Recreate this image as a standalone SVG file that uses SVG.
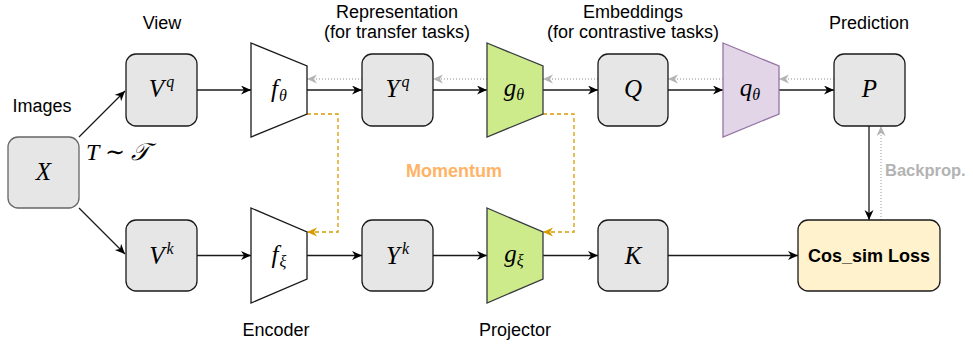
<svg xmlns="http://www.w3.org/2000/svg" width="973" height="345" viewBox="0 0 973 345">
  <defs>
    <style>
      .lbl { font-family: "Liberation Sans", Arial, sans-serif; font-size: 18px; fill: #000; text-anchor: middle; }
      .math { font-family: "Liberation Serif", "DejaVu Serif", serif; font-style: italic; font-size: 25px; fill: #000; text-anchor: middle; }
      .sup { font-size: 16px; }
      .sub { font-size: 16px; }
      .box { fill: #e6e6e6; stroke: #1a1a1a; stroke-width: 1.3; }
      .trap { fill: #ffffff; stroke: #1a1a1a; stroke-width: 1.3; }
      .green { fill: #cdeb8b; stroke: #36393d; stroke-width: 1.3; }
      .purple { fill: #e1d5e7; stroke: #9673a6; stroke-width: 1.3; }
      .flow { fill: none; stroke: #1a1a1a; stroke-width: 1.3; marker-end: url(#arrowBlack); }
      .grad { fill: none; stroke: #b3b3b3; stroke-width: 1.3; stroke-dasharray: 1 2; marker-end: url(#arrowGrey); }
      .mom { fill: none; stroke: #d79b00; stroke-width: 1.3; stroke-dasharray: 4 3; marker-end: url(#arrowOrange); }
    </style>
    <marker id="arrowBlack" markerUnits="userSpaceOnUse" markerWidth="12" markerHeight="10" refX="10" refY="4.5" orient="auto">
      <path d="M0,0 L10,4.5 L0,9 L3,4.5 Z" fill="#000"/>
    </marker>
    <marker id="arrowGrey" markerUnits="userSpaceOnUse" markerWidth="12" markerHeight="10" refX="10" refY="4.5" orient="auto">
      <path d="M0,0 L10,4.5 L0,9 L3,4.5 Z" fill="#b3b3b3"/>
    </marker>
    <marker id="arrowOrange" markerUnits="userSpaceOnUse" markerWidth="12" markerHeight="10" refX="10" refY="4.5" orient="auto">
      <path d="M0,0 L10,4.5 L0,9 L3,4.5 Z" fill="#d79b00"/>
    </marker>
  </defs>

  <rect width="973" height="345" fill="#ffffff"/>

  <!-- connectors -->
  <g id="connectors">
    <!-- augmentation branches -->
    <path class="flow" d="M79,137 L125,91"/>
    <path class="flow" d="M79,208 L125,254"/>
    <!-- online branch -->
    <path class="flow" d="M197,90 L251,90"/>
    <path class="flow" d="M307,90 L362,90"/>
    <path class="flow" d="M433,90 L487,90"/>
    <path class="flow" d="M543,90 L598,90"/>
    <path class="flow" d="M668,90 L723,90"/>
    <path class="flow" d="M779,90 L834,90"/>
    <!-- target branch -->
    <path class="flow" d="M197,255.5 L251,255.5"/>
    <path class="flow" d="M307,255.5 L362,255.5"/>
    <path class="flow" d="M433,255.5 L487,255.5"/>
    <path class="flow" d="M543,255.5 L598,255.5"/>
    <path class="flow" d="M668,255.5 L798,255.5"/>
    <path class="flow" d="M869,126 L869,220"/>
    <!-- gradient flow -->
    <path class="grad" d="M834,79 L779,79"/>
    <path class="grad" d="M723,79 L668,79"/>
    <path class="grad" d="M598,79 L543,79"/>
    <path class="grad" d="M487,79 L433,79"/>
    <path class="grad" d="M362,79 L307,79"/>
    <path class="grad" d="M881,220 L881,126"/>
    <!-- momentum updates -->
    <path class="mom" d="M307,114 L338,114 L338,232 L307,232"/>
    <path class="mom" d="M543,114 L574,114 L574,232 L543,232"/>
  </g>

  <!-- nodes -->
  <g id="node-x">
    <rect x="8" y="137" width="71" height="71" rx="10" class="box" style="stroke:#666666"/>
    <text x="43.5" y="180" class="math">X</text>
  </g>
  <g id="node-vq">
    <rect x="126" y="54" width="71" height="72" rx="10" class="box"/>
    <text x="161.5" y="97" class="math">V<tspan class="sup" dx="2" dy="-10">q</tspan></text>
  </g>
  <g id="node-vk">
    <rect x="126" y="220" width="71" height="71" rx="10" class="box"/>
    <text x="161.5" y="264" class="math">V<tspan class="sup" dx="2" dy="-10">k</tspan></text>
  </g>
  <g id="node-f-theta">
    <polygon points="251,43 307,66 307,114 251,137" class="trap"/>
    <text x="279" y="97" class="math">f<tspan class="sub" dx="1" dy="4">θ</tspan></text>
  </g>
  <g id="node-f-xi">
    <polygon points="251,208 307,232 307,279 251,303" class="trap"/>
    <text x="279" y="263" class="math">f<tspan class="sub" dx="1" dy="4">ξ</tspan></text>
  </g>
  <g id="node-yq">
    <rect x="362" y="54" width="71" height="72" rx="10" class="box"/>
    <text x="397.5" y="97" class="math">Y<tspan class="sup" dx="2" dy="-10">q</tspan></text>
  </g>
  <g id="node-yk">
    <rect x="362" y="220" width="71" height="71" rx="10" class="box"/>
    <text x="397.5" y="264" class="math">Y<tspan class="sup" dx="2" dy="-10">k</tspan></text>
  </g>
  <g id="node-g-theta">
    <polygon points="487,43 543,66 543,114 487,137" class="green"/>
    <text x="514" y="96" class="math">g<tspan class="sub" dy="4">θ</tspan></text>
  </g>
  <g id="node-g-xi">
    <polygon points="487,208 543,232 543,279 487,303" class="green"/>
    <text x="514" y="262" class="math">g<tspan class="sub" dy="4">ξ</tspan></text>
  </g>
  <g id="node-q">
    <rect x="598" y="54" width="70" height="72" rx="10" class="box"/>
    <text x="633" y="97" class="math">Q</text>
  </g>
  <g id="node-k">
    <rect x="598" y="220" width="70" height="71" rx="10" class="box"/>
    <text x="633" y="264" class="math">K</text>
  </g>
  <g id="node-q-theta">
    <polygon points="723,43 779,66 779,114 723,137" class="purple"/>
    <text x="750" y="96" class="math">q<tspan class="sub" dy="4">θ</tspan></text>
  </g>
  <g id="node-p">
    <rect x="834" y="54" width="71" height="72" rx="10" class="box"/>
    <text x="869.5" y="97" class="math">P</text>
  </g>
  <g id="node-loss">
    <rect x="798" y="220" width="142" height="71" rx="10" fill="#fff2cc" stroke="#1a1a1a" stroke-width="1.3"/>
    <text x="869" y="262" style="font-family:'Liberation Sans', Arial, sans-serif; font-size:18px; font-weight:bold; text-anchor:middle">Cos_sim Loss</text>
  </g>

  <!-- labels -->
  <g id="labels">
    <text x="162" y="29" class="lbl">View</text>
    <text x="42" y="112" class="lbl">Images</text>
    <text x="86" y="160" class="math" style="text-anchor:start; font-size:24px">T ∼ 𝒯</text>
    <text x="397" y="18" class="lbl">Representation</text>
    <text x="397" y="38" class="lbl">(for transfer tasks)</text>
    <text x="633" y="18" class="lbl">Embeddings</text>
    <text x="633" y="38" class="lbl">(for contrastive tasks)</text>
    <text x="869" y="29" class="lbl">Prediction</text>
    <text x="276" y="336" class="lbl">Encoder</text>
    <text x="515" y="336" class="lbl">Projector</text>
    <text x="454" y="177" class="lbl" style="font-weight:bold; fill:#ffb366">Momentum</text>
    <text x="885" y="176" style="font-family:'Liberation Sans', Arial, sans-serif; font-size:16.5px; font-weight:bold; fill:#b3b3b3">Backprop.</text>
  </g>
</svg>
